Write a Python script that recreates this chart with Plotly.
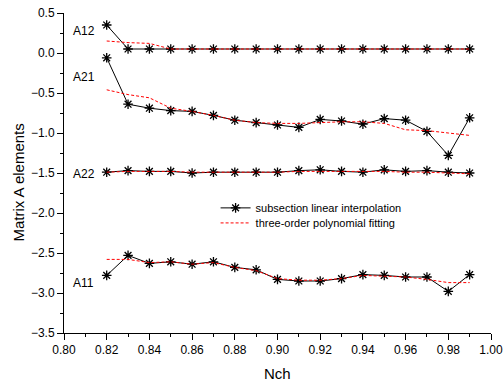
import plotly.graph_objects as go

nch = [0.82, 0.83, 0.84, 0.85, 0.86, 0.87, 0.88, 0.89, 0.90,
       0.91, 0.92, 0.93, 0.94, 0.95, 0.96, 0.97, 0.98, 0.99]

a12_interp = [0.35, 0.05, 0.05, 0.05, 0.05, 0.05, 0.05, 0.05, 0.05,
              0.05, 0.05, 0.05, 0.05, 0.05, 0.05, 0.05, 0.05, 0.05]
a12_fit = [0.15, 0.13, 0.12, 0.05, 0.05, 0.05, 0.05, 0.05, 0.05,
           0.05, 0.05, 0.05, 0.05, 0.05, 0.05, 0.05, 0.05, 0.05]

a21_interp = [-0.06, -0.64, -0.69, -0.72, -0.73, -0.78, -0.84, -0.87, -0.90,
              -0.93, -0.83, -0.85, -0.89, -0.82, -0.84, -0.98, -1.28, -0.81]
a21_fit = [-0.46, -0.52, -0.56, -0.69, -0.73, -0.78, -0.84, -0.87, -0.88,
           -0.88, -0.87, -0.86, -0.86, -0.88, -0.96, -0.97, -1.00, -1.03]

a22_interp = [-1.49, -1.47, -1.48, -1.48, -1.50, -1.49, -1.49, -1.49, -1.49,
              -1.47, -1.46, -1.48, -1.49, -1.46, -1.48, -1.47, -1.49, -1.50]
a22_fit = [-1.49, -1.48, -1.48, -1.48, -1.49, -1.49, -1.49, -1.49, -1.49,
           -1.48, -1.48, -1.48, -1.48, -1.48, -1.49, -1.49, -1.50, -1.51]

a11_interp = [-2.78, -2.53, -2.63, -2.61, -2.64, -2.61, -2.68, -2.71, -2.83,
              -2.85, -2.85, -2.82, -2.77, -2.78, -2.80, -2.80, -2.98, -2.77]
a11_fit = [-2.58, -2.58, -2.62, -2.61, -2.64, -2.62, -2.68, -2.72, -2.82,
           -2.84, -2.84, -2.82, -2.78, -2.79, -2.80, -2.83, -2.87, -2.87]

labels = ["A12", "A21", "A22", "A11"]
label_y = [0.27, -0.30, -1.51, -2.88]

series = [(a12_interp, a12_fit), (a21_interp, a21_fit),
          (a22_interp, a22_fit), (a11_interp, a11_fit)]

fig = go.Figure()
for i, (yi, yf) in enumerate(series):
    fig.add_trace(go.Scatter(
        x=nch, y=yi, mode="lines+markers",
        name="subsection linear interpolation",
        legend="legend", showlegend=(i == 0),
        line=dict(color="black", width=1),
        marker=dict(symbol="asterisk-open", size=8, color="black",
                    line=dict(color="black", width=1.3)),
    ))
for i, (yi, yf) in enumerate(series):
    fig.add_trace(go.Scatter(
        x=nch, y=yf, mode="lines",
        name="three-order polynomial fitting",
        legend="legend2", showlegend=(i == 0),
        line=dict(color="red", width=1, dash="3px,2px"),
    ))

for lab, ly in zip(labels, label_y):
    fig.add_annotation(x=0.8035, y=ly, text=lab, showarrow=False,
                       xanchor="left", yanchor="middle",
                       font=dict(size=12, color="black"))

# axis titles
fig.add_annotation(xref="paper", yref="paper", x=0.5, y=-0.125,
                   text="Nch", showarrow=False, xanchor="center", yanchor="middle",
                   font=dict(size=15, color="black"))
fig.add_annotation(xref="paper", yref="paper", x=-0.107, y=0.471,
                   text="Matrix A elements", showarrow=False, textangle=-90,
                   xanchor="center", yanchor="middle",
                   font=dict(size=15, color="black"))

leg_common = dict(xanchor="left", yanchor="middle", bgcolor="rgba(0,0,0,0)",
                  font=dict(size=11), itemwidth=30)
fig.update_layout(
    width=504, height=383,
    margin=dict(l=64, r=13, t=13, b=50, autoexpand=False),
    paper_bgcolor="white", plot_bgcolor="white",
    font=dict(family="Liberation Sans, Arial, sans-serif", size=12, color="black"),
    showlegend=True,
    legend=dict(x=0.355, y=0.391, **leg_common),
    legend2=dict(x=0.355, y=0.344, **leg_common),
)
fig.update_xaxes(
    range=[0.80, 1.00], dtick=0.02, tickformat=".2f", automargin=False,
    showline=True, linecolor="black", linewidth=1,
    ticks="outside", ticklen=6, tickcolor="black",
    showgrid=False, zeroline=False, tickfont=dict(size=12),
    minor=dict(dtick=0.01, ticks="outside", ticklen=3, tickcolor="black", showgrid=False),
)
fig.update_yaxes(
    range=[-3.5, 0.5], dtick=0.5, tickformat=".1f", automargin=False,
    showline=True, linecolor="black", linewidth=1,
    ticks="outside", ticklen=6, tickcolor="black",
    showgrid=False, zeroline=False, tickfont=dict(size=12),
    minor=dict(dtick=0.25, ticks="outside", ticklen=3, tickcolor="black", showgrid=False),
)

fig.write_html("out.html", config={"displayModeBar": False},
               post_script="document.body.style.margin='0';document.body.style.overflow='hidden';")
